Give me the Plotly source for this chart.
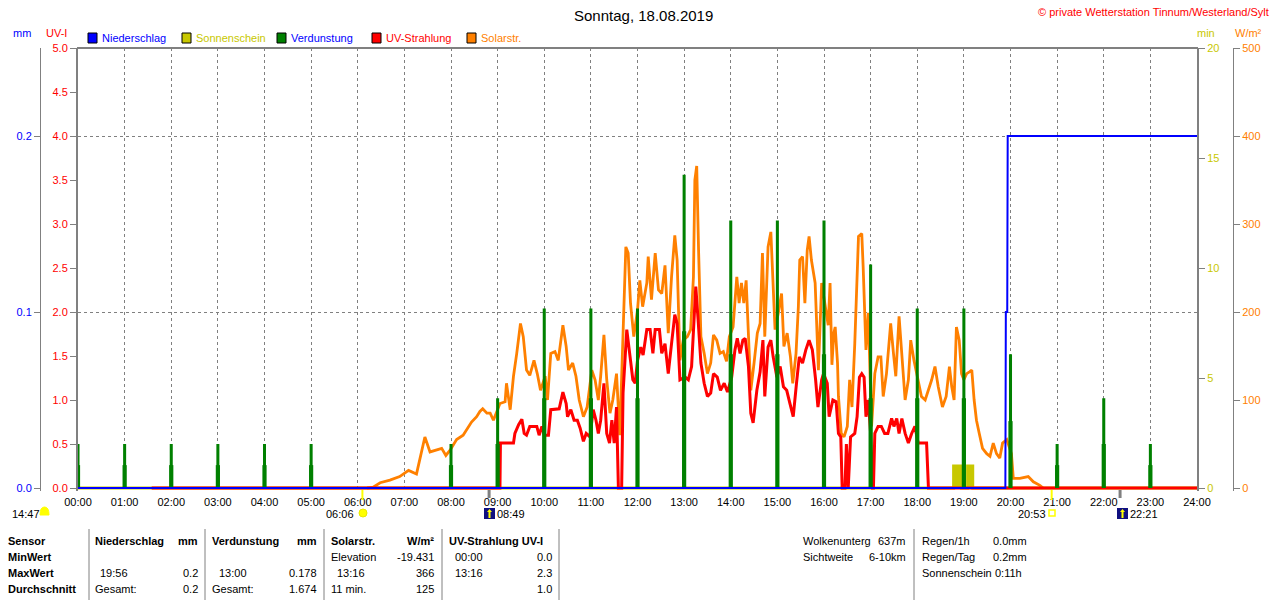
import plotly.graph_objects as go

# ---------------- data ----------------
hour_ticks = list(range(25))
hour_labels = ["00:00", "01:00", "02:00", "03:00", "04:00", "05:00", "06:00", "07:00",
               "08:00", "09:00", "10:00", "11:00", "12:00", "13:00", "14:00", "15:00",
               "16:00", "17:00", "18:00", "19:00", "20:00", "21:00", "22:00", "23:00", "24:00"]

# Solarstrahlung W/m2 : (hour, value)
solar_pts = [
    (6.20, 0), (6.33, 1), (6.48, 6), (6.69, 9), (6.90, 13), (7.09, 20), (7.26, 16), (7.35, 39),
    (7.44, 58), (7.55, 41), (7.69, 43), (7.80, 45), (7.89, 37), (7.98, 43), (8.12, 55), (8.26, 60),
    (8.44, 75), (8.55, 81), (8.62, 87), (8.68, 90), (8.77, 85), (8.84, 85), (8.91, 77), (9.05, 96),
    (9.16, 98), (9.19, 119), (9.27, 89), (9.34, 127), (9.41, 153), (9.49, 187), (9.55, 172),
    (9.62, 134), (9.69, 128), (9.78, 145), (9.85, 130), (9.92, 111), (10.02, 127), (10.07, 100),
    (10.14, 153), (10.23, 155), (10.30, 145), (10.40, 185), (10.47, 161), (10.52, 134),
    (10.61, 142), (10.68, 127), (10.75, 100), (10.84, 81), (10.92, 92), (11.02, 134),
    (11.09, 123), (11.16, 100), (11.21, 127), (11.28, 174), (11.34, 123), (11.41, 85),
    (11.47, 100), (11.55, 130), (11.62, 60), (11.69, 172), (11.75, 274), (11.80, 267),
    (11.85, 210), (11.92, 172), (12.00, 202), (12.05, 236), (12.11, 206), (12.20, 233),
    (12.23, 263), (12.30, 214), (12.38, 267), (12.45, 225), (12.52, 221), (12.59, 253),
    (12.66, 176), (12.73, 240), (12.80, 287), (12.85, 259), (12.91, 145), (12.98, 168),
    (13.07, 172), (13.14, 180), (13.20, 240), (13.23, 350), (13.27, 366), (13.31, 270),
    (13.36, 172), (13.43, 153), (13.50, 130), (13.57, 142), (13.63, 174), (13.70, 168),
    (13.77, 153), (13.84, 155), (13.91, 144), (13.97, 172), (14.05, 183), (14.13, 240),
    (14.18, 210), (14.23, 233), (14.28, 210), (14.33, 236), (14.38, 176), (14.43, 111),
    (14.50, 142), (14.57, 176), (14.63, 187), (14.68, 267), (14.73, 172), (14.80, 274),
    (14.86, 291), (14.90, 244), (14.95, 180), (15.02, 199), (15.09, 221), (15.14, 161),
    (15.21, 176), (15.28, 149), (15.33, 119), (15.40, 153), (15.45, 206), (15.48, 259),
    (15.54, 263), (15.59, 210), (15.64, 270), (15.68, 286), (15.73, 259), (15.81, 233),
    (15.88, 134), (15.95, 233), (16.02, 210), (16.09, 185), (16.13, 233), (16.17, 140),
    (16.21, 176), (16.24, 183), (16.29, 142), (16.31, 104), (16.37, 62), (16.43, 58),
    (16.50, 70), (16.55, 123), (16.60, 92), (16.66, 164), (16.74, 286), (16.81, 289),
    (16.84, 251), (16.90, 157), (16.95, 199), (17.02, 70), (17.09, 130), (17.16, 149),
    (17.22, 149), (17.27, 104), (17.34, 130), (17.43, 187), (17.49, 153), (17.54, 127),
    (17.61, 195), (17.67, 149), (17.74, 100), (17.81, 123), (17.86, 168), (17.93, 145),
    (18.02, 123), (18.09, 104), (18.17, 100), (18.24, 111), (18.31, 123), (18.38, 138),
    (18.45, 115), (18.54, 92), (18.62, 104), (18.69, 138), (18.74, 115), (18.79, 100),
    (18.84, 183), (18.90, 168), (18.95, 130), (19.00, 123), (19.06, 130), (19.12, 132),
    (19.17, 134), (19.22, 100), (19.27, 77), (19.33, 62), (19.40, 45), (19.49, 39),
    (19.56, 36), (19.63, 51), (19.70, 39), (19.77, 34), (19.83, 51), (19.92, 55),
    (20.02, 39), (20.06, 11), (20.20, 11), (20.38, 13), (20.49, 7), (20.63, 3), (20.70, 0),
]
solar_t = [p[0] for p in solar_pts]
solar_v = [p[1] for p in solar_pts]

# UV-Strahlung UV-I : (hour, value)
uv_pts = [
    (1.58, 0), (9.05, 0), (9.06, 0.51), (9.34, 0.51), (9.37, 0.62), (9.45, 0.72), (9.52, 0.78),
    (9.57, 0.62), (9.62, 0.6), (9.69, 0.7), (9.84, 0.7), (9.89, 0.6), (9.95, 0.7), (10.00, 0.6),
    (10.09, 0.6), (10.14, 0.89), (10.32, 0.9), (10.40, 1.09), (10.47, 0.96), (10.50, 0.81),
    (10.57, 0.89), (10.64, 0.77), (10.71, 0.77), (10.77, 0.68), (10.84, 0.53), (10.90, 0.62),
    (10.98, 0.58), (11.05, 0.89), (11.11, 0.77), (11.16, 0.62), (11.21, 0.77), (11.28, 1.19),
    (11.34, 0.62), (11.40, 0.51), (11.45, 0.77), (11.50, 0.51), (11.55, 0.92), (11.59, 0),
    (11.66, 0), (11.69, 1.08), (11.77, 1.8), (11.84, 1.45), (11.90, 1.23), (11.95, 1.19),
    (12.00, 1.45), (12.07, 1.6), (12.12, 1.51), (12.20, 1.8), (12.27, 1.8), (12.33, 1.53),
    (12.38, 1.8), (12.47, 1.8), (12.52, 1.53), (12.59, 1.64), (12.66, 1.3), (12.73, 1.64),
    (12.80, 1.97), (12.85, 1.87), (12.91, 1.23), (13.02, 1.26), (13.09, 1.23), (13.16, 1.38),
    (13.21, 1.95), (13.25, 2.29), (13.30, 1.91), (13.36, 1.42), (13.43, 1.19), (13.50, 1.04),
    (13.57, 1.08), (13.63, 1.3), (13.71, 1.26), (13.78, 1.11), (13.86, 1.19), (13.93, 1.09),
    (14.02, 1.26), (14.09, 1.57), (14.14, 1.7), (14.20, 1.53), (14.26, 1.68), (14.31, 1.7),
    (14.38, 1.38), (14.43, 0.85), (14.48, 0.74), (14.56, 1.11), (14.63, 1.32), (14.69, 1.68),
    (14.73, 1.04), (14.80, 1.6), (14.86, 1.68), (14.91, 1.49), (14.99, 1.26), (15.06, 1.38),
    (15.13, 1.15), (15.20, 1.11), (15.27, 0.96), (15.34, 0.81), (15.41, 1.19), (15.47, 1.49),
    (15.54, 1.42), (15.61, 1.57), (15.68, 1.68), (15.75, 1.57), (15.82, 1.23), (15.87, 0.92),
    (15.95, 1.23), (15.99, 1.3), (16.07, 1.19), (16.11, 0.81), (16.19, 1.0), (16.26, 0.98),
    (16.31, 0.62), (16.36, 0.58), (16.39, 0), (16.45, 0), (16.48, 0.5), (16.52, 0),
    (16.57, 0.58), (16.66, 0.62), (16.71, 0.81), (16.76, 1.26), (16.81, 1.3), (16.86, 1.26),
    (16.90, 0.81), (16.95, 1.0), (17.00, 0.62), (17.04, 0), (17.06, 0), (17.09, 0.62),
    (17.16, 0.7), (17.23, 0.7), (17.30, 0.62), (17.37, 0.62), (17.45, 0.79), (17.50, 0.7),
    (17.56, 0.79), (17.61, 0.62), (17.67, 0.79), (17.74, 0.62), (17.81, 0.51), (17.88, 0.62),
    (17.95, 0.7), (18.02, 0.51), (18.20, 0.51), (18.24, 0), (24.00, 0),
]
uv_t = [p[0] for p in uv_pts]
uv_v = [p[1] for p in uv_pts]

# Verdunstung mm (hourly) and the lower half-step mark drawn with each bar
evap_h = [0, 1, 2, 3, 4, 5, 8, 9, 10, 11, 12, 13, 14, 15, 16, 17, 18, 19, 20, 21, 22, 23]
evap_mm = [0.025, 0.025, 0.025, 0.025, 0.025, 0.025, 0.025, 0.051, 0.102, 0.102, 0.102,
           0.178, 0.152, 0.152, 0.152, 0.127, 0.102, 0.102, 0.076, 0.025, 0.051, 0.025]
evap_low = [0.013, 0.013, 0.013, 0.013, 0.013, 0.013, 0.013, 0.025, 0.051, 0.051, 0.051,
            0.089, 0.076, 0.076, 0.076, 0.051, 0.051, 0.051, 0.038, 0.013, 0.025, 0.013]

# Niederschlag mm (cumulative)
rain_t = [0, 19.89, 19.90, 19.93, 19.94, 24]
rain_mm = [0, 0, 0.1, 0.1, 0.2, 0.2]

# Sonnenschein min (step)
sun_t = [0, 18.78, 18.95, 19.08, 19.19, 24]
sun_min = [0, 1, 0, 1, 0, 0]

# astronomical markers (hours)
sunrise, sunset = 6.10, 20.883
moonrise, moonset = 8.817, 22.35

# ---------------- helpers ----------------
W, H = 1280, 600
ML, MR, MT, MB = 20, 20, 48, 109     # plot area bottom at y=491 (zero line at 488)
PAD = 3                              # px below the zero line kept inside the plot
def px(x):
    return (x - ML) / (W - ML - MR)
def py(y):
    return (H - MB - y) / (H - MT - MB)
def rng(top):
    return [-top * PAD / 440.0, top]

FONT = "Liberation Sans"
GRAY = "#808080"
C_BLUE, C_OLIVE, C_GREEN, C_RED, C_ORANGE = "#0000ff", "#c8c800", "#008000", "#ff0000", "#ff8000"

fig = go.Figure()

fig.add_trace(go.Scatter(x=sun_t, y=sun_min, mode="lines", line=dict(color=C_OLIVE, width=3, shape="hv"),
                         fill="tozeroy", fillcolor=C_OLIVE, yaxis="y", hoverinfo="skip"))
fig.add_trace(go.Scatter(x=solar_t, y=solar_v, mode="lines", line=dict(color=C_ORANGE, width=2.8),
                         yaxis="y2", hoverinfo="skip"))
fig.add_trace(go.Scatter(x=uv_t, y=uv_v, mode="lines", line=dict(color=C_RED, width=3),
                         yaxis="y3", hoverinfo="skip"))
fig.add_trace(go.Bar(x=evap_h, y=evap_low, width=0.09, marker=dict(color=C_GREEN, line=dict(width=0)),
                     yaxis="y4", hoverinfo="skip"))
fig.add_trace(go.Bar(x=evap_h, y=evap_mm, width=0.065, marker=dict(color=C_GREEN, line=dict(width=0)),
                     yaxis="y4", hoverinfo="skip"))
fig.add_trace(go.Scatter(x=rain_t, y=rain_mm, mode="lines", line=dict(color=C_BLUE, width=2),
                         yaxis="y4", hoverinfo="skip"))

fig.update_layout(
    width=W, height=H, margin=dict(l=ML, r=MR, t=MT, b=MB, autoexpand=False),
    paper_bgcolor="white", plot_bgcolor="white", showlegend=False, barmode="overlay",
    font=dict(family=FONT, size=11, color="black"),
    xaxis=dict(domain=[px(78), px(1197)], range=[0, 24], tickvals=hour_ticks, ticktext=hour_labels,
               showgrid=True, gridcolor=GRAY, griddash="3px,3px", gridwidth=1,
               ticks="outside", ticklen=1, tickcolor="rgba(0,0,0,0)", showline=False,
               zeroline=False, tickfont=dict(family=FONT, size=11, color="black"),
               layer="below traces", automargin=False),
    yaxis=dict(range=rng(20), tickvals=[0, 5, 10, 15, 20], side="right", anchor="x",
               tickfont=dict(family=FONT, size=11, color=C_OLIVE), ticks="outside", ticklen=6,
               tickcolor=GRAY, showgrid=False, zeroline=False, showline=True, linecolor=GRAY,
               linewidth=2, layer="below traces", automargin=False),
    yaxis2=dict(range=rng(500), tickvals=[0, 100, 200, 300, 400, 500], overlaying="y", side="right",
                anchor="free", position=px(1233), tickfont=dict(family=FONT, size=11, color=C_ORANGE),
                ticks="outside", ticklen=6, tickcolor=GRAY, showgrid=False, zeroline=False,
                showline=True, linecolor=GRAY, linewidth=1, automargin=False),
    yaxis3=dict(range=rng(5), tickvals=[0, 0.5, 1, 1.5, 2, 2.5, 3, 3.5, 4, 4.5, 5], tickformat=".1f",
                overlaying="y", side="left", anchor="x",
                tickfont=dict(family=FONT, size=11, color=C_RED), ticks="outside", ticklen=6,
                tickcolor=GRAY, showgrid=False, zeroline=False, showline=True, linecolor=GRAY,
                linewidth=2, layer="below traces", automargin=False),
    yaxis4=dict(range=rng(0.25), tickvals=[0, 0.1, 0.2], tickformat=".1f", overlaying="y", side="left",
                anchor="free", position=px(40), tickfont=dict(family=FONT, size=11, color=C_BLUE),
                ticks="outside", ticklen=6, tickcolor=GRAY, showgrid=True, gridcolor=GRAY,
                griddash="3px,3px", gridwidth=1, zeroline=False, showline=True, linecolor=GRAY,
                linewidth=1, automargin=False),
)

shapes = []
ann = []
def text(x, y, s, color="black", size=11, anchor="left", bold=False):
    if bold:
        s = "<b>" + s + "</b>"
    ann.append(dict(x=px(x), y=py(y), xref="paper", yref="paper", text=s, showarrow=False,
                    xanchor=anchor, yanchor="middle", borderpad=0,
                    font=dict(family=FONT, size=size, color=color)))

# top frame line of the plot area
shapes.append(dict(type="line", xref="paper", yref="paper", x0=px(77), x1=px(1198), y0=py(48), y1=py(48),
                   line=dict(color=GRAY, width=2), layer="below"))

text(643, 15, "Sonntag, 18.08.2019", size=15, anchor="center")
text(1270, 12, "© private Wetterstation Tinnum/Westerland/Sylt", color=C_RED, size=11, anchor="right")

text(22, 33, "mm", color=C_BLUE, anchor="center")
text(56, 33, "UV-I", color=C_RED, anchor="center")
text(1206, 33, "min", color=C_OLIVE, anchor="center")
text(1248, 33, "W/m²", color=C_ORANGE, anchor="center")

legend = [(88, C_BLUE, "Niederschlag", C_BLUE), (182, C_OLIVE, "Sonnenschein", C_OLIVE),
          (277, C_GREEN, "Verdunstung", C_BLUE), (372, C_RED, "UV-Strahlung", C_RED),
          (467, C_ORANGE, "Solarstr.", C_ORANGE)]
for x0, fc, label, tc in legend:
    shapes.append(dict(type="rect", xref="paper", yref="paper", x0=px(x0), x1=px(x0 + 9),
                       y0=py(43), y1=py(33), fillcolor=fc, line=dict(color="black", width=1)))
    text(x0 + 13, 38, label, color=tc)

for t in [sunrise, sunset]:
    shapes.append(dict(type="line", xref="x", yref="paper", x0=t, x1=t, y0=py(490), y1=py(500),
                       line=dict(color="#ffff00", width=2)))
for t in [moonrise, moonset]:
    shapes.append(dict(type="line", xref="x", yref="paper", x0=t, x1=t, y0=py(490), y1=py(498),
                       line=dict(color=GRAY, width=3)))

# icons
shapes.append(dict(type="path", xref="paper", yref="paper",
                   path=f"M {px(40)},{py(515)} Q {px(40)},{py(507)} {px(44.5)},{py(507)} Q {px(49)},{py(507)} {px(49)},{py(515)} Z",
                   fillcolor="#ffff00", line=dict(color="#ffff00", width=1)))
text(11, 514, "14:47")
shapes.append(dict(type="circle", xref="paper", yref="paper", x0=px(359), x1=px(367), y0=py(517), y1=py(509),
                   fillcolor="#ffff00", line=dict(color="#e8e800", width=1)))
text(355, 514, "06:06", anchor="right")
shapes.append(dict(type="rect", xref="paper", yref="paper", x0=px(1049), x1=px(1055), y0=py(516), y1=py(510),
                   fillcolor="white", line=dict(color="#ffff00", width=1.5)))
text(1047, 514, "20:53", anchor="right")
for xm in [484, 1117]:
    shapes.append(dict(type="rect", xref="paper", yref="paper", x0=px(xm), x1=px(xm + 11), y0=py(519), y1=py(508),
                       fillcolor="#101080", line=dict(width=0)))
    shapes.append(dict(type="path", xref="paper", yref="paper",
                       path=f"M {px(xm+3)},{py(512)} L {px(xm+5.5)},{py(509)} L {px(xm+8)},{py(512)} L {px(xm+6.5)},{py(512)} L {px(xm+6.5)},{py(518)} L {px(xm+4.5)},{py(518)} L {px(xm+4.5)},{py(512)} Z",
                       fillcolor="#ffff00", line=dict(width=0)))
text(496, 514, "08:49")
text(1129, 514, "22:21")

for xs in [89, 205, 324, 442, 559, 914]:
    shapes.append(dict(type="line", xref="paper", yref="paper", x0=px(xs), x1=px(xs), y0=py(529), y1=py(600),
                       line=dict(color=GRAY, width=1)))

rows = [541, 557, 573, 589]
for y, s in zip(rows, ["Sensor", "MinWert", "MaxWert", "Durchschnitt"]):
    text(7, y, s, bold=True)

text(94, rows[0], "Niederschlag", bold=True)
text(199, rows[0], "mm", bold=True, anchor="right")
text(99, rows[2], "19:56")
text(199, rows[2], "0.2", anchor="right")
text(94, rows[3], "Gesamt:")
text(199, rows[3], "0.2", anchor="right")

text(211, rows[0], "Verdunstung", bold=True)
text(318, rows[0], "mm", bold=True, anchor="right")
text(218, rows[2], "13:00")
text(318, rows[2], "0.178", anchor="right")
text(211, rows[3], "Gesamt:")
text(318, rows[3], "1.674", anchor="right")

text(330, rows[0], "Solarstr.", bold=True)
text(435, rows[0], "W/m²", bold=True, anchor="right")
text(330, rows[1], "Elevation")
text(435, rows[1], "-19.431", anchor="right")
text(336, rows[2], "13:16")
text(435, rows[2], "366", anchor="right")
text(330, rows[3], "11 min.")
text(435, rows[3], "125", anchor="right")

text(448, rows[0], "UV-Strahlung UV-I", bold=True)
text(454, rows[1], "00:00")
text(553, rows[1], "0.0", anchor="right")
text(454, rows[2], "13:16")
text(553, rows[2], "2.3", anchor="right")
text(553, rows[3], "1.0", anchor="right")

text(802, rows[0], "Wolkenunterg")
text(907, rows[0], "637m", anchor="right")
text(802, rows[1], "Sichtweite")
text(907, rows[1], "6-10km", anchor="right")
text(921, rows[0], "Regen/1h")
text(992, rows[0], "0.0mm")
text(921, rows[1], "Regen/Tag")
text(992, rows[1], "0.2mm")
text(921, rows[2], "Sonnenschein")
text(994, rows[2], "0:11h")

fig.update_layout(shapes=shapes, annotations=ann)
fig.write_html("out.html", config={"displayModeBar": False, "staticPlot": True},
               post_script="document.body.style.margin='0px';document.body.style.overflow='hidden';")
